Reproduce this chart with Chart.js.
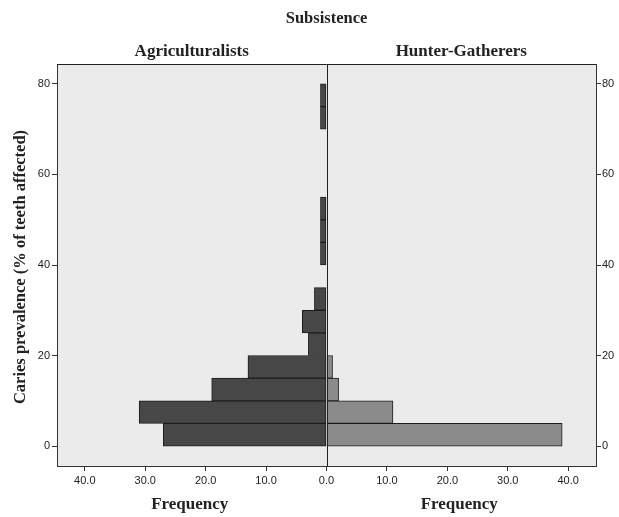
<!DOCTYPE html>
<html>
<head>
<meta charset="utf-8">
<script src="https://cdn.jsdelivr.net/npm/chart.js@4/dist/chart.umd.min.js"></script>
<style>
  html, body { margin: 0; padding: 0; background: #fff; }
  #chart { display: block; }
</style>
</head>
<body>
<canvas id="chart" width="619" height="517"></canvas>
<script>
// bins of caries prevalence (% of teeth affected), 5 wide
const binStarts = [0, 5, 10, 15, 20, 25, 30, 35, 40, 45, 50, 55, 60, 65, 70, 75];
const agriculturalists = [27, 31, 19, 13, 3, 4, 2, 0, 1, 1, 1, 0, 0, 0, 1, 1];
const hunterGatherers = [39, 11, 2, 1, 0, 0, 0, 0, 0, 0, 0, 0, 0, 0, 0, 0];
const binWidth = 5;

const freqTicks = [-40, -30, -20, -10, 0, 10, 20, 30, 40];
const prevTicks = [0, 20, 40, 60, 80];

const serif = "'Liberation Serif', 'DejaVu Serif', serif";
const sans = "'Liberation Sans', Arial, sans-serif";

// left side goes negative so the bars grow to the left
const toPoints = (vals, sign) => vals
    .map((v, i) => ({ x: sign * v, y: binStarts[i] + binWidth / 2 }))
    .filter(p => p.x !== 0);

const frame = {
    id: "frame",
    beforeDraw(chart) {
        const { ctx, chartArea: a } = chart;
        ctx.save();
        ctx.fillStyle = "#ebebeb";
        ctx.fillRect(a.left, a.top, a.right - a.left, a.bottom - a.top);
        ctx.restore();
    },
    afterDraw(chart) {
        const { ctx, chartArea: a } = chart;
        const x0 = chart.scales.x.getPixelForValue(0);
        ctx.save();
        ctx.strokeStyle = "#222";
        ctx.lineWidth = 1;
        ctx.beginPath();
        ctx.moveTo(a.left, a.top + 0.5);
        ctx.lineTo(a.right, a.top + 0.5);
        ctx.moveTo(Math.round(x0) + 0.5, a.top);
        ctx.lineTo(Math.round(x0) + 0.5, a.bottom);
        ctx.stroke();

        ctx.fillStyle = "#222";
        ctx.textAlign = "center";
        ctx.textBaseline = "middle";
        ctx.font = "bold 16.5px " + serif;
        ctx.fillText("Subsistence", x0, 19);
        ctx.font = "bold 17px " + serif;
        ctx.fillText("Agriculturalists", (a.left + x0) / 2, 52);
        ctx.fillText("Hunter-Gatherers", (x0 + a.right) / 2, 52);
        ctx.fillText("Frequency", (a.left + x0) / 2 - 2, 505);
        ctx.fillText("Frequency", (x0 + a.right) / 2 - 2, 505);

        ctx.translate(21, (a.top + a.bottom) / 2 + 2);
        ctx.rotate(-Math.PI / 2);
        ctx.font = "bold 16.5px " + serif;
        ctx.fillText("Caries prevalence (% of teeth affected)", 0, 0);
        ctx.restore();
    }
};

const prevAxis = (pos, width, pad) => ({
    type: "linear",
    position: pos,
    min: -4.4,
    max: 84.4,
    offset: false,
    afterBuildTicks: s => { s.ticks = prevTicks.map(v => ({ value: v })); },
    afterFit: s => { s.width = width; },
    grid: { drawOnChartArea: false, offset: false, tickLength: 5, color: "#333" },
    border: { color: "#333", width: 1 },
    ticks: { color: "#222", padding: pad, font: { family: sans, size: 11 } }
});

new Chart(document.getElementById("chart"), {
    type: "bar",
    data: {
        datasets: [
            {
                label: "Agriculturalists",
                data: toPoints(agriculturalists, -1),
                backgroundColor: "#474747",
                borderColor: "#1c1c1c",
                borderWidth: 1,
                borderSkipped: false,
                grouped: false,
                barPercentage: 1,
                categoryPercentage: 1
            },
            {
                label: "Hunter-Gatherers",
                data: toPoints(hunterGatherers, 1),
                backgroundColor: "#8b8b8b",
                borderColor: "#1c1c1c",
                borderWidth: 1,
                borderSkipped: false,
                grouped: false,
                barPercentage: 1,
                categoryPercentage: 1
            }
        ]
    },
    options: {
        responsive: false,
        animation: false,
        indexAxis: "y",
        layout: { padding: { top: 64 } },
        plugins: {
            legend: { display: false },
            tooltip: { enabled: false }
        },
        scales: {
            x: {
                type: "linear",
                min: -44.6,
                max: 44.6,
                afterBuildTicks: s => { s.ticks = freqTicks.map(v => ({ value: v })); },
                afterFit: s => { s.height = 51; },
                grid: { drawOnChartArea: false, tickLength: 5, color: "#333" },
                border: { color: "#333", width: 1 },
                ticks: {
                    color: "#222",
                    padding: 3,
                    font: { family: sans, size: 11 },
                    callback: v => Math.abs(v).toFixed(1)
                }
            },
            y: prevAxis("left", 57, 2),
            y2: prevAxis("right", 23, 1)
        }
    },
    plugins: [frame]
});
</script>
</body>
</html>
